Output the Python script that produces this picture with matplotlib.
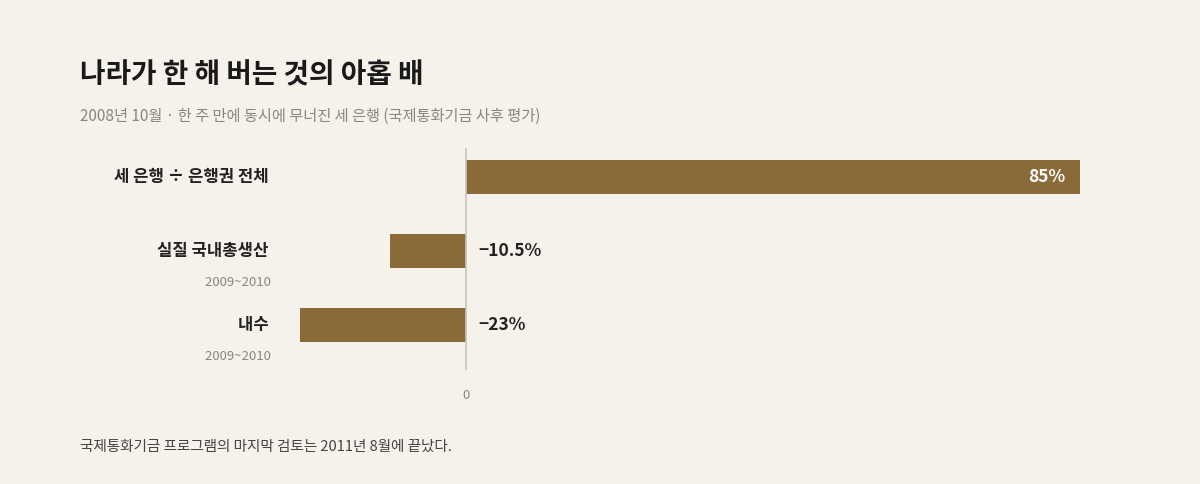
import matplotlib
matplotlib.use("Agg")
import matplotlib.pyplot as plt

plt.rcParams['font.family'] = ['Noto Sans CJK KR', 'DejaVu Sans']

categories = ["세 은행 ÷ 은행권 전체", "실질 국내총생산", "내수"]
sublabels = ["", "2009~2010", "2009~2010"]
values = [85, -10.5, -23]
value_labels = ["85%", "−10.5%", "−23%"]

BG = "#f5f1eb"
BAR = "#8b6a3a"
W, H = 1200, 484
fig = plt.figure(figsize=(12, 4.84), dpi=100, facecolor=BG)

px = 614 / 85.0
x0 = 466
left_px, right_px = 280, 1100
ax = fig.add_axes([left_px / W, (H - 370) / H, (right_px - left_px) / W, 222 / H])
ax.set_facecolor(BG)
ax.set_xlim((left_px - x0) / px, (right_px - x0) / px)
ax.set_ylim(2 + 45 / 74, -29 / 74)
ys = list(range(len(values)))
ax.barh(ys, values, height=34 / 74, color=BAR, zorder=2)
ax.axvline(0, color="#c9c4bc", lw=1.2, zorder=3)
for s in ax.spines.values():
    s.set_visible(False)
ax.set_yticks([])
ax.set_xticks([])

for y, v, lab in zip(ys, values, value_labels):
    if v > 0:
        ax.text(v - 2, y, lab, ha="right", va="center", color="white",
                fontsize=12.5, fontweight="bold", zorder=4)
    else:
        ax.text(12 / px, y, lab, ha="left", va="center", color="#222222",
                fontsize=12.5, fontweight="bold", zorder=4)
    ax.text((left_px - x0) / px, y, categories[ys.index(y)] + "   ", ha="right", va="center",
            color="#222222", fontsize=12, fontweight="bold")
    if sublabels[y]:
        ax.text((left_px - x0) / px, y + 0.43, sublabels[y] + "   ", ha="right", va="center",
                color="#8a8580", fontsize=9.5)
ax.text(0, 2.95, "0", ha="center", va="center", color="#8a8580", fontsize=9.5)

fig.text(80 / W, 1 - 75 / H, "나라가 한 해 버는 것의 아홉 배", ha="left", va="center",
         fontsize=20, fontweight="bold", color="#1a1a1a")
fig.text(80 / W, 1 - 116 / H, "2008년 10월 · 한 주 만에 동시에 무너진 세 은행 (국제통화기금 사후 평가)",
         ha="left", va="center", fontsize=11, color="#8a8580")
fig.text(80 / W, 1 - 447 / H, "국제통화기금 프로그램의 마지막 검토는 2011년 8월에 끝났다.",
         ha="left", va="center", fontsize=10.5, color="#444444")

fig.savefig("out.png", dpi=100, facecolor=BG)
